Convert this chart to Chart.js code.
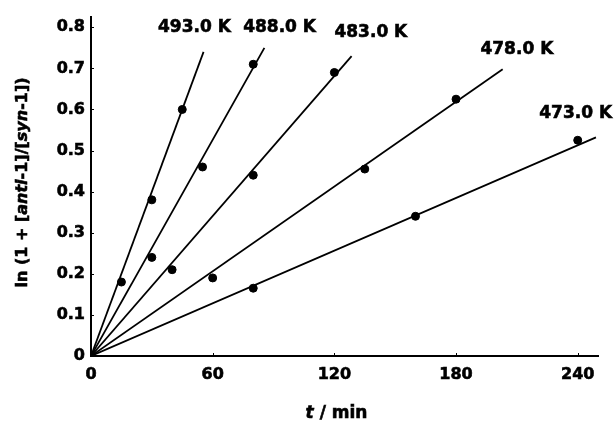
<!DOCTYPE html>
<html>
<head>
<meta charset="utf-8">
<script src="https://cdn.jsdelivr.net/npm/chart.js@4"></script>
<style>
  body { margin: 0; background: #fff; }
  #wrap { width: 615px; height: 424px; position: relative; }
</style>
</head>
<body>
<div id="wrap"><canvas id="grafico"></canvas></div>
<script>
// temperaturas (etiquetas de cada recta)
const temps = ['493.0 K', '488.0 K', '483.0 K', '478.0 K', '473.0 K']

// puntos medidos: t / min  y  ln(1 + [anti-1]/[syn-1])
const t493 = [15, 30, 45]
const y493 = [0.18, 0.38, 0.60]
const t488 = [30, 55, 80]
const y488 = [0.24, 0.46, 0.71]
const t483 = [40, 80, 120]
const y483 = [0.21, 0.44, 0.69]
const t478 = [60, 135, 180]
const y478 = [0.19, 0.455, 0.625]
const t473 = [80, 160, 240]
const y473 = [0.165, 0.34, 0.525]

// fin de cada recta ajustada (todas parten del origen)
const lineEndT = [55.5, 85.5, 128.5, 203, 249]
const lineEndY = [0.74, 0.75, 0.73, 0.698, 0.532]

// donde va cada etiqueta de temperatura
const labelT = [51, 93, 138, 210, 239]
const labelY = [0.80, 0.80, 0.788, 0.745, 0.59]

// ticks de los ejes
const xTicks = [0, 60, 120, 180, 240]
const yTicks = [0, 0.1, 0.2, 0.3, 0.4, 0.5, 0.6, 0.7, 0.8]

const tiempos = [t493, t488, t483, t478, t473]
const valores = [y493, y488, y483, y478, y473]

const datasets = []
temps.forEach((temp, i) => {
    datasets.push({
        type: 'line',
        label: temp + ' ajuste',
        data: [{ x: 0, y: 0 }, { x: lineEndT[i], y: lineEndY[i] }],
        borderColor: '#000',
        borderWidth: 1.8,
        pointRadius: 0,
        fill: false,
        tension: 0
    })
    datasets.push({
        type: 'scatter',
        label: temp,
        data: tiempos[i].map((t, j) => ({ x: t, y: valores[i][j] })),
        backgroundColor: '#000',
        borderColor: '#000',
        pointRadius: 4
    })
})

const fuente = 'DejaVu Sans'

// dibuja texto con partes en cursiva (con trazo para que se vea mas negro)
const textoMixto = (ctx, partes, size) => {
    let total = 0
    partes.forEach(p => {
        ctx.font = (p[1] ? 'italic ' : '') + 'bold ' + size + 'px "' + fuente + '"'
        total += ctx.measureText(p[0]).width
    })
    let x = -total / 2
    partes.forEach(p => {
        ctx.font = (p[1] ? 'italic ' : '') + 'bold ' + size + 'px "' + fuente + '"'
        ctx.fillText(p[0], x, 0)
        ctx.strokeText(p[0], x, 0)
        x += ctx.measureText(p[0]).width
    })
}

const extras = {
    id: 'extras',
    afterDatasetsDraw(chart) {
        const ctx = chart.ctx
        const xs = chart.scales.x
        const ys = chart.scales.y
        ctx.save()
        ctx.fillStyle = '#000'
        ctx.strokeStyle = '#000'
        // ticks hacia adentro
        ctx.lineWidth = 1
        xTicks.forEach(v => {
            const px = Math.round(xs.getPixelForValue(v)) + 0.5
            ctx.beginPath()
            ctx.moveTo(px, ys.bottom)
            ctx.lineTo(px, ys.bottom - 3)
            ctx.stroke()
        })
        yTicks.forEach(v => {
            const py = Math.round(ys.getPixelForValue(v)) + 0.5
            ctx.beginPath()
            ctx.moveTo(xs.left, py)
            ctx.lineTo(xs.left + 3, py)
            ctx.stroke()
        })
        // etiquetas de temperatura
        ctx.lineWidth = 0.6
        ctx.font = 'bold 17px "' + fuente + '"'
        ctx.textAlign = 'center'
        ctx.textBaseline = 'middle'
        temps.forEach((temp, i) => {
            const px = xs.getPixelForValue(labelT[i])
            const py = ys.getPixelForValue(labelY[i])
            ctx.fillText(temp, px, py)
            ctx.strokeText(temp, px, py)
        })
        // titulo eje y
        ctx.textAlign = 'left'
        ctx.save()
        ctx.translate(23, (ys.top + ys.bottom) / 2 - 4)
        ctx.rotate(-Math.PI / 2)
        textoMixto(ctx, [['ln (1 + [', false], ['anti', true], ['-1]/[', false], ['syn', true], ['-1])', false]], 16)
        ctx.restore()
        // titulo eje x
        ctx.save()
        ctx.translate((xs.left + xs.right) / 2 - 8, 414)
        textoMixto(ctx, [['t', true], [' / min', false]], 17)
        ctx.restore()
        ctx.restore()
    }
}

const ctx = document.getElementById('grafico').getContext('2d')
const myChart = new Chart(ctx, {
    type: 'scatter',
    data: { datasets: datasets },
    options: {
        responsive: true,
        maintainAspectRatio: false,
        animation: false,
        layout: { padding: { left: 45, right: 17, top: 17, bottom: 27 } },
        plugins: {
            legend: { display: false },
            tooltip: { enabled: false },
            title: { display: false }
        },
        scales: {
            x: {
                type: 'linear',
                min: 0,
                max: 250,
                afterFit: s => { s.height = 41 },
                afterBuildTicks: s => { s.ticks = xTicks.map(v => ({ value: v })) },
                grid: { display: false, drawTicks: false },
                border: { display: true, color: '#000', width: 2 },
                ticks: {
                    color: '#000',
                    padding: 9,
                    maxRotation: 0,
                    textStrokeColor: '#000',
                    textStrokeWidth: 0.6,
                    font: { family: fuente, size: 16, weight: 'bold' }
                }
            },
            y: {
                type: 'linear',
                min: 0,
                max: 0.825,
                afterFit: s => { s.width = 46 },
                afterBuildTicks: s => { s.ticks = yTicks.map(v => ({ value: v })) },
                grid: { display: false, drawTicks: false },
                border: { display: true, color: '#000', width: 2 },
                ticks: {
                    color: '#000',
                    padding: 6,
                    textStrokeColor: '#000',
                    textStrokeWidth: 0.6,
                    font: { family: fuente, size: 16, weight: 'bold' },
                    callback: v => v === 0 ? '0' : v.toFixed(1)
                }
            }
        }
    },
    plugins: [extras]
})
</script>
</body>
</html>
